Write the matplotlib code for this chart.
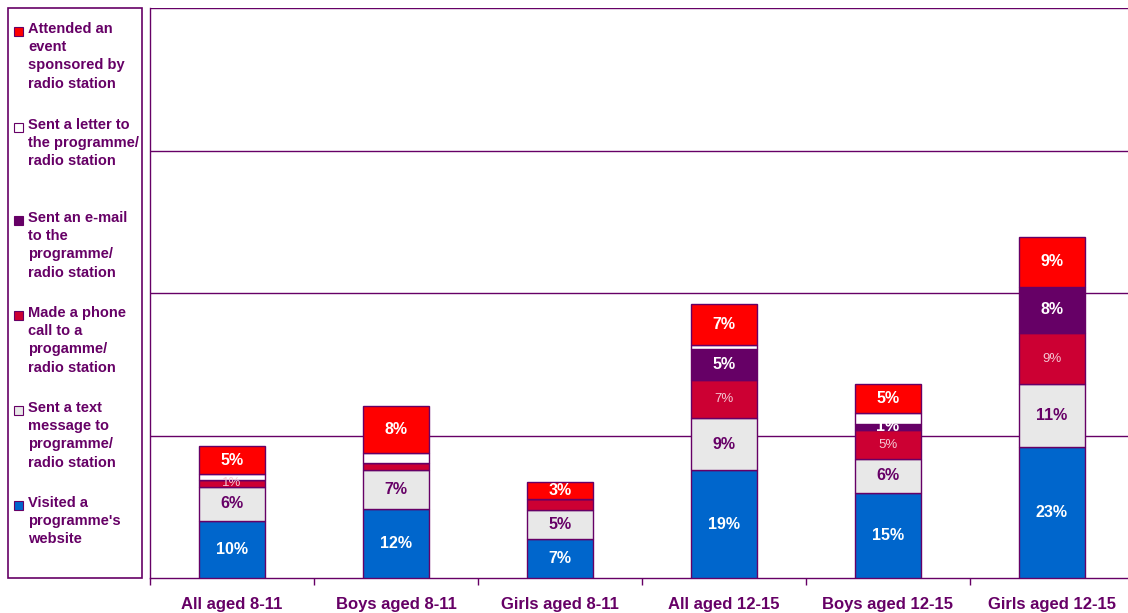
import matplotlib.pyplot as plt
from matplotlib.patches import Rectangle
import numpy as np

plt.rcParams['font.family'] = ['Liberation Sans', 'DejaVu Sans']

PURPLE = '#660066'

categories = ['All aged 8-11', 'Boys aged 8-11', 'Girls aged 8-11',
              'All aged 12-15', 'Boys aged 12-15', 'Girls aged 12-15']

# stacked from bottom to top
website = [10.0, 12.1, 6.8, 18.9, 15.0, 23.0]
text_msg = [6.0, 6.8, 5.1, 9.1, 5.8, 11.0]
phone = [1.2, 1.2, 1.9, 6.8, 5.1, 9.0]
email = [0.0, 0.0, 0.0, 5.4, 1.2, 8.1]
letter = [1.0, 1.9, 0.0, 0.7, 1.9, 0.0]
event = [5.0, 8.1, 3.1, 7.1, 5.0, 8.8]

# labels shown on the segments (None = not labelled)
website_lbl = ['10%', '12%', '7%', '19%', '15%', '23%']
text_lbl = ['6%', '7%', '5%', '9%', '6%', '11%']
phone_lbl = ['1%', None, None, '7%', '5%', '9%']
email_lbl = [None, None, None, '5%', '1%', '8%']
letter_lbl = [None] * 6
event_lbl = ['5%', '8%', '3%', '7%', '5%', '9%']

series = [
    ("Visited a\nprogramme's\nwebsite", website, website_lbl, '#0066CC', 'white', 'bold', 11.5),
    ('Sent a text\nmessage to\nprogramme/\nradio station', text_msg, text_lbl, '#E8E8E8', PURPLE, 'bold', 11.5),
    ('Made a phone\ncall to a\nprogamme/\nradio station', phone, phone_lbl, '#CC0033', '#F4C8D4', 'normal', 9.5),
    ('Sent an e-mail\nto the\nprogramme/\nradio station', email, email_lbl, '#660066', 'white', 'bold', 11.5),
    ('Sent a letter to\nthe programme/\nradio station', letter, letter_lbl, 'white', 'white', 'bold', 11.5),
    ('Attended an\nevent\nsponsored by\nradio station', event, event_lbl, '#FF0000', 'white', 'bold', 11.5),
]

W, H = 1128, 613
fig = plt.figure(figsize=(W / 100, H / 100), dpi=100)
ax = fig.add_axes([150 / W, (H - 578) / H, 984 / W, 570 / H])

x = np.arange(len(categories))
bottom = np.zeros(len(categories))
for name, vals, lbls, color, tcolor, weight, fs in series:
    vals = np.array(vals)
    ax.bar(x, vals, 0.4, bottom=bottom, color=color, edgecolor=PURPLE,
           linewidth=1, zorder=3)
    for i, (v, lb) in enumerate(zip(vals, lbls)):
        if lb:
            ax.text(x[i], bottom[i] + v / 2, lb, ha='center', va='center',
                    color=tcolor, fontweight=weight, fontsize=fs, zorder=4)
    bottom += vals

ax.set_xlim(-0.5, len(categories) - 0.5)
ax.set_ylim(0, 100)
ax.set_yticks([25, 50, 75, 100])
ax.yaxis.grid(True, color=PURPLE, linewidth=1)
ax.tick_params(axis='y', left=False, labelleft=False)
ax.set_xticks(x)
ax.set_xticklabels(categories, fontsize=12, fontweight='bold', color=PURPLE)
ax.tick_params(axis='x', length=0, pad=14)
ax.set_xticks(np.arange(len(categories) + 1) - 0.5, minor=True)
ax.tick_params(axis='x', which='minor', length=5, color=PURPLE, width=1)
for s in ['top', 'right']:
    ax.spines[s].set_visible(False)
for s in ['left', 'bottom']:
    ax.spines[s].set_color(PURPLE)
    ax.spines[s].set_linewidth(1)

# legend box on the left
fig.patches.append(Rectangle((8 / W, (H - 578) / H), 134 / W, 570 / H,
                             transform=fig.transFigure, fill=False,
                             edgecolor=PURPLE, linewidth=1.2))
legend_tops = [501, 406, 311, 216, 123, 27]
for (name, vals, lbls, color, *_), top in zip(series, legend_tops):
    fig.patches.append(Rectangle((14 / W, (H - top - 9) / H), 9 / W, 9 / H,
                                 transform=fig.transFigure, facecolor=color,
                                 edgecolor=PURPLE, linewidth=0.8))
    fig.text(28 / W, (H - top + 5) / H, name, ha='left', va='top',
             fontsize=10.5, fontweight='bold', color=PURPLE, linespacing=1.38)

fig.savefig('out.png', dpi=100)
